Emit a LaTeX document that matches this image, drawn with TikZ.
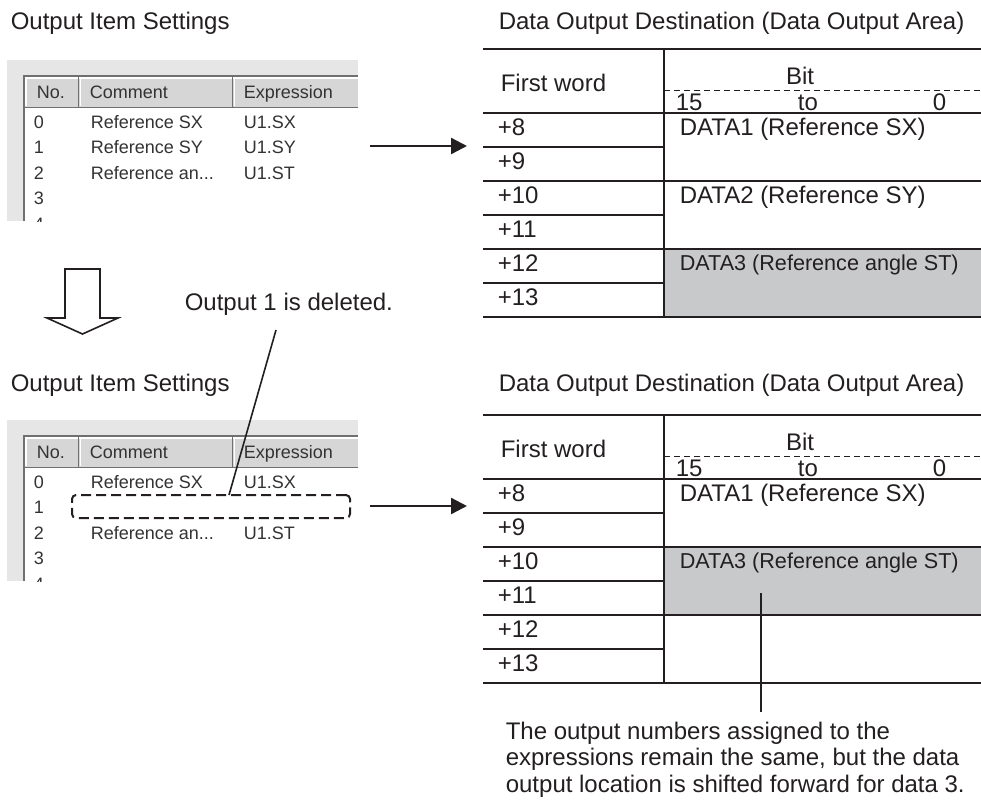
\documentclass[tikz,border=0pt]{standalone}
\usepackage{fontspec}
\setmainfont{Liberation Sans}
\usetikzlibrary{arrows.meta, positioning, calc}
\definecolor{panelgray}{HTML}{E6E6E6}
\definecolor{headgray}{HTML}{D6D6D6}
\definecolor{framegray}{HTML}{707070}
\definecolor{cellgray}{HTML}{C8C9CB}
\definecolor{inkgray}{HTML}{231F20}
\tikzset{
  title/.style={anchor=west, inner sep=0pt, text=inkgray, font=\fontsize{12}{13.5}\selectfont, text height=8.6pt, text depth=0pt},
  cell/.style={title},
  small cell/.style={title, font=\fontsize{10.8}{12}\selectfont, text height=7.7pt},
  shot/.style={anchor=west, inner sep=0pt, text=black!80, font=\fontsize{9}{10}\selectfont, text height=6.5pt, text depth=0pt},
  rule/.style={draw=inkgray, line width=0.75pt},
  conn/.style={draw=inkgray, line width=1.2pt, -{Triangle[length=8pt, width=8pt]}},
}

\begin{document}
\begin{tikzpicture}[x=0.5pt, y=-0.5pt, >=Stealth, thick]
    \useasboundingbox (0,0) rectangle (981,800);
    % Titles
    \node[title] (setA) at (10,21) {Output Item Settings};
    \node[title] (destA) at (498,21) {Data Output Destination (Data Output Area)};
    \node[title] (setB) at (10,383) {Output Item Settings};
    \node[title] (destB) at (498,383) {Data Output Destination (Data Output Area)};
    % Screenshot panels
    \foreach \s/\n in {0/A,360/B} {
        \begin{scope}[shift={(0,\s)}]
            \fill[panelgray] (7,60) rectangle (358,221);
            \fill[white] (24,76) rectangle (358,221);
            \fill[headgray] (24,76) rectangle (358,107);
            \draw[white, line width=0.6pt] (26,106) -- (26,78) -- (358,78);
            \draw[framegray, line width=0.5pt] (24,107) -- (358,107);
            \draw[framegray, line width=0.5pt] (78,77) -- (78,107) (232,77) -- (232,107);
            \draw[white, line width=0.5pt] (80,78) -- (80,106) (234,78) -- (234,106);
            \draw[framegray, line width=1pt] (24,221) -- (24,76) -- (358,76);
            \node[shot] (no\n) at (36,92) {No.};
            \node[shot] (cm\n) at (89,92) {Comment};
            \node[shot] (ex\n) at (243,92) {Expression};
            \begin{scope}
                \clip (7,60) rectangle (358,221);
                \foreach \r in {0,...,4}
                    \node[shot] (num\n\r) at (33,122+25.4*\r) {\r};
            \end{scope}
        \end{scope}
    }
    % Rows before deleting
    \node[shot] (cmtA0) at (90,122) {Reference SX};
    \node[shot] (expA0) at (243,122) {U1.SX};
    \node[shot] (cmtA1) at (90,147.4) {Reference SY};
    \node[shot] (expA1) at (243,147.4) {U1.SY};
    \node[shot] (cmtA2) at (90,172.8) {Reference an...};
    \node[shot] (expA2) at (243,172.8) {U1.ST};
    % Rows after deleting
    \node[shot] (cmtB0) at (90,482) {Reference SX};
    \node[shot] (expB0) at (243,482) {U1.SX};
    \node[shot] (cmtB2) at (90,532.8) {Reference an...};
    \node[shot] (expB2) at (243,532.8) {U1.ST};
    \node[draw=inkgray, line width=1pt, dash pattern=on 5pt off 2.5pt, rounded corners=2pt,
          minimum width=139pt, minimum height=11.5pt, inner sep=0pt] (gap) at (211,506.5) {};
    % Output area tables
    \foreach \s/\n/\g in {0/A/249,366/B/181} {
        \begin{scope}[shift={(0,\s)}]
            \fill[cellgray] (664,\g) rectangle (981,\g+68);
            \draw[rule, line width=1pt] (483,49) -- (981,49);
            \draw[rule] (664,49) -- (664,317);
            \draw[rule] (483,113) -- (981,113);
            \foreach \i in {1,3,5}
                \draw[rule] (483,113+34*\i) -- (664,113+34*\i);
            \foreach \i in {2,4}
                \draw[rule] (483,113+34*\i) -- (981,113+34*\i);
            \draw[rule, line width=1pt] (483,317) -- (981,317);
            \draw[inkgray, line width=0.5pt, dash pattern=on 3pt off 2pt] (664,90) -- (981,90);
            \node[cell] (fw\n) at (500,83) {First word};
            \node[cell, anchor=center] (bit\n) at (800,76) {Bit};
            \node[cell] (hi\n) at (675,102) {15};
            \node[cell, anchor=center] (to\n) at (808,102) {to};
            \node[cell, anchor=east] (lo\n) at (947,102) {0};
            \foreach \w [count=\i from 0] in {+8,+9,+10,+11,+12,+13}
                \node[cell] (w\n\i) at (497,127+34*\i) {\w};
        \end{scope}
    }
    \node[cell] (dataA1) at (679,127) {DATA1 (Reference SX)};
    \node[cell] (dataA2) at (679,195) {DATA2 (Reference SY)};
    \node[small cell] (dataA3) at (679,263) {DATA3 (Reference angle ST)};
    \node[cell] (dataB1) at (679,493) {DATA1 (Reference SX)};
    \node[small cell] (dataB3) at (679,561) {DATA3 (Reference angle ST)};
    % Arrows
    \coordinate (srcA) at (370,146);
    \coordinate (dstA) at (467,146);
    \coordinate (srcB) at (370,506);
    \coordinate (dstB) at (467,506);
    \draw[conn] (srcA) -- (dstA);
    \draw[conn] (srcB) -- (dstB);
    \draw[inkgray, line width=0.8pt, line join=miter]
        (65,269) -- (100,269) -- (100,318) -- (118,318) -- (82.5,334) -- (47,318) -- (65,318) -- cycle;
    % Notes
    \node[cell] (delnote) at (184,302) {Output 1 is deleted.};
    \coordinate (delTop) at (276,330);
    \coordinate (delEnd) at (229,495);
    \draw[inkgray, line width=0.8pt] (delTop) -- (delEnd);
    \node[anchor=north west, inner sep=0pt, align=left, text=inkgray,
          font=\fontsize{12}{13.25}\selectfont] (note) at (505,721)
        {The output numbers assigned to the\\expressions remain the same, but the data\\output location is shifted forward for data 3.};
    \coordinate (pin) at (761,593);
    \coordinate (pinEnd) at (761,712);
    \draw[inkgray, line width=0.8pt] (pin) -- (pinEnd);
\end{tikzpicture}
\end{document}
